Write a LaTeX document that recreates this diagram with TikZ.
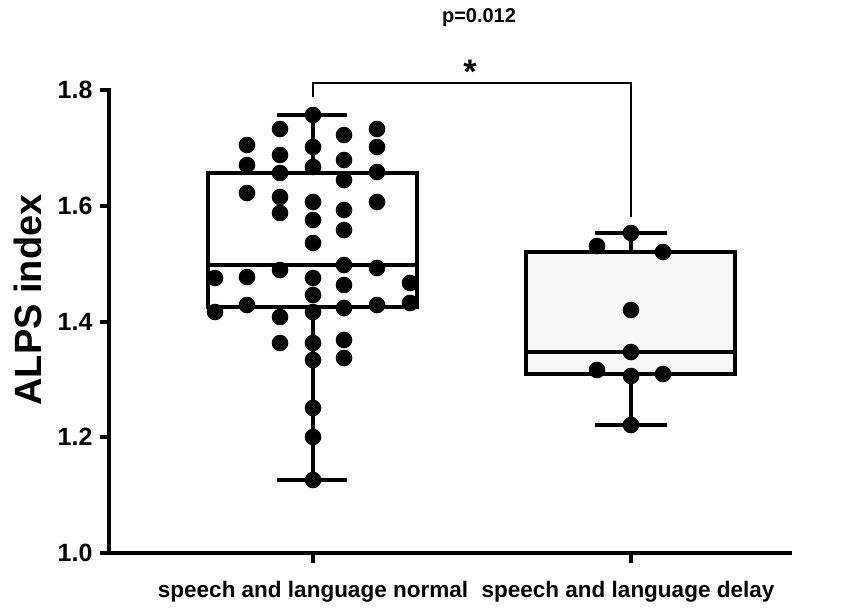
\documentclass[tikz,border=0pt]{standalone}
\usepackage{fontspec}
\setmainfont{Liberation Sans}
\begin{document}
\begin{tikzpicture}[x=1pt,y=-1pt,
  dot/.style={fill=black,draw=none},
  thick3/.style={line width=3.2pt},
  lbl/.style={font=\fontsize{25}{26}\selectfont\bfseries},
  cat/.style={font=\fontsize{22.5}{24}\selectfont\bfseries}]
\useasboundingbox (0,0) rectangle (850,611);
% axes
\draw[thick3,line cap=rect] (109,90) -- (109,553) -- (790,553);
\foreach \v/\y in {1.0/553,1.2/437,1.4/322,1.6/206,1.8/90}{
  \draw[thick3] (100,\y) -- (109,\y);
  \node[lbl,anchor=east] (t\y) at (96,\y) {\v};}
\foreach \x in {313,631} \draw[thick3] (\x,553) -- (\x,563);
\node[font=\fontsize{38}{40}\selectfont\bfseries,rotate=90] (yl) at (28,300) {ALPS index};
\node[cat] (c1) at (313,592) {speech and language normal};
\node[cat] (c2) at (628,592) {speech and language delay};
\node[font=\fontsize{20}{22}\selectfont\bfseries] (p) at (479,18) {p=0.012};
\node[font=\fontsize{34}{34}\selectfont\bfseries] (st) at (470,72) {*};
% bracket
\coordinate (bl) at (313,97); \coordinate (br) at (631,217);
\draw[line width=1.8pt] (bl) |- (631,83) -- (br);
% box 1
\draw[thick3] (208,173) rectangle (417,307);
\draw[thick3] (208,265) -- (417,265);
\draw[thick3] (313,115) -- (313,173) (313,307) -- (313,480);
\draw[thick3] (277,115) -- (347,115) (277,480) -- (347,480);
\foreach \x/\y in {215/278,215/312,
 247/145,247/165,247/193,247/277,247/305,
 280/129,280/155,280/173,280/197,280/213,280/270,280/317,280/343,
 313/115,313/147,313/167,313/202,313/220,313/243,313/278,313/295,313/312,313/343,313/360,313/408,313/437,313/480,
 344/135,344/160,344/180,344/210,344/230,344/265,344/285,344/308,344/340,344/358,
 377/129,377/147,377/172,377/202,377/268,377/305,
 410/283,410/303}
 \fill[dot] (\x,\y) circle (8.3);
% box 2
\draw[thick3,fill={rgb,255:red,245;green,247;blue,252}] (526,252) rectangle (735,374);
\draw[thick3] (526,352) -- (735,352);
\draw[thick3] (631,233) -- (631,252) (631,374) -- (631,425);
\draw[thick3] (595,233) -- (667,233) (595,425) -- (667,425);
\foreach \x/\y in {597/246,631/233,663/252,631/310,631/352,597/370,631/376,663/374,631/425}
 \fill[dot] (\x,\y) circle (8.3);
\end{tikzpicture}
\end{document}
